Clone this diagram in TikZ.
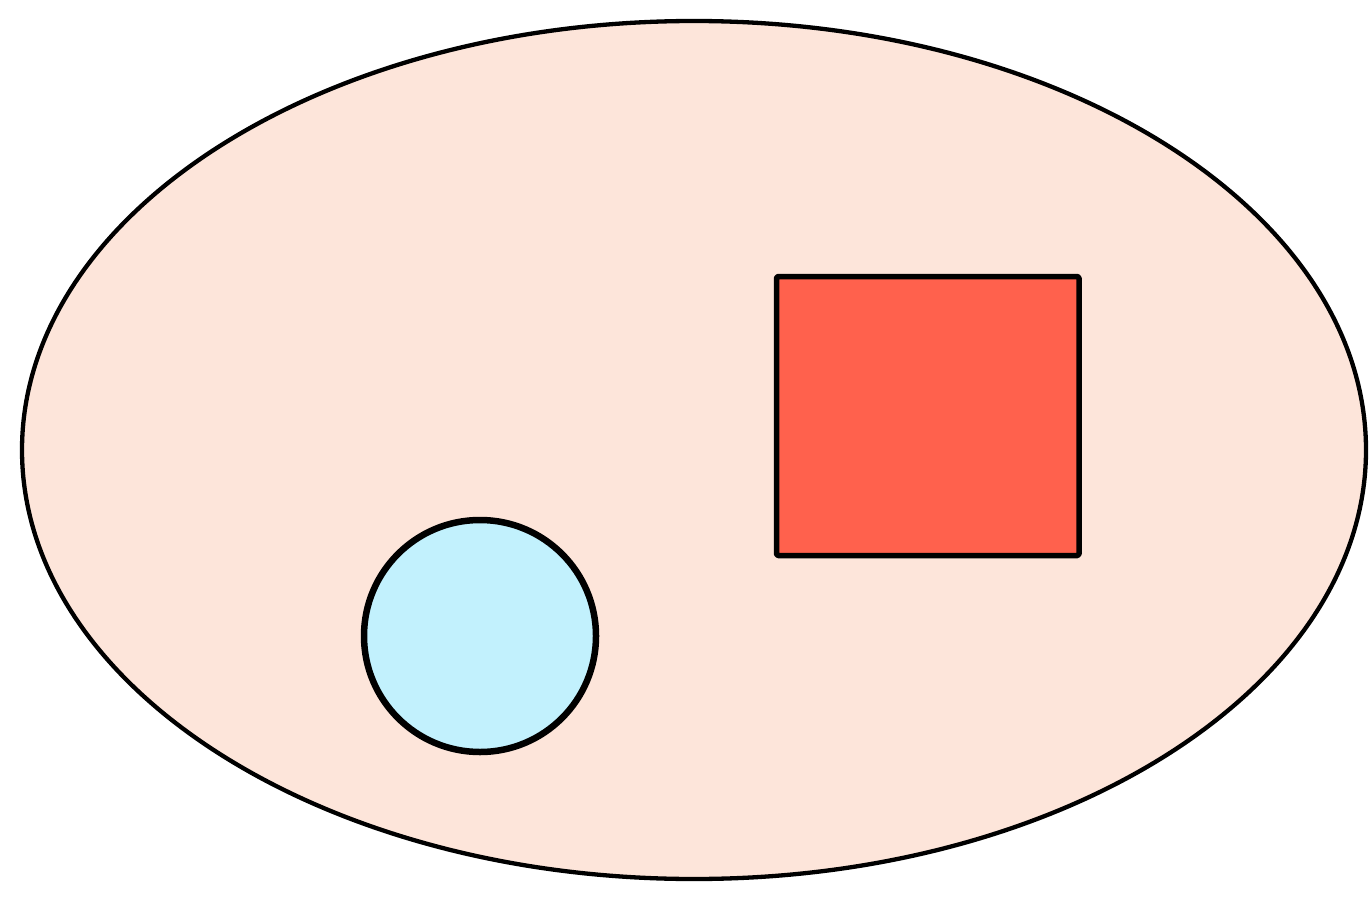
\documentclass[tikz,border=0pt]{standalone}
\definecolor{ellfill}{HTML}{FDE5DA}
\definecolor{sqfill}{HTML}{FF614D}
\definecolor{circfill}{HTML}{C2F1FD}
\begin{document}
\begin{tikzpicture}[x=1pt,y=-1pt,
  shapeline/.style={draw=black, line join=round}]
\useasboundingbox (0,0) rectangle (1372,901);
\path[shapeline, fill=ellfill, line width=4.3pt] (694,450) ellipse [x radius=672, y radius=429];
\path[shapeline, fill=sqfill, line width=5.5pt, rounded corners=1.5pt] (776.5,276.5) rectangle (1079,555.5);
\path[shapeline, fill=circfill, line width=6.5pt] (480,636) circle [radius=116];
\end{tikzpicture}
\end{document}
